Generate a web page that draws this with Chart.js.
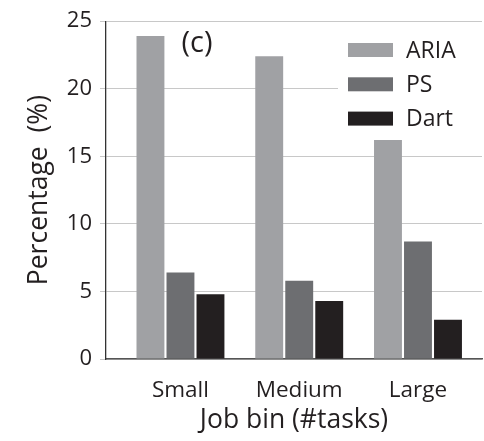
<!DOCTYPE html>
<html>
<head>
<meta charset="utf-8">
<script src="https://cdn.jsdelivr.net/npm/chart.js@4/dist/chart.umd.min.js"></script>
<style>
  body { margin: 0; background: #fff; }
  canvas { display: block; }
</style>
</head>
<body>
<canvas id="myChart" width="484" height="441"></canvas>
<script>
var categories = ["Small", "Medium", "Large"];
var aria_values = [23.9, 22.4, 16.2];
var ps_values = [6.4, 5.8, 8.7];
var dart_values = [4.8, 4.3, 2.9];
var y_ticks = [0, 5, 10, 15, 20, 25];

var FONT = "'Open Sans', 'DejaVu Sans', sans-serif";
var TEXT = '#231f20';

function to_points(values) {
    return values.map(function (v, i) { return { x: i, y: v }; });
}

// legend box in the top right corner, and the panel tag
var panelPlugin = {
    id: 'panel',
    afterDatasetsDraw: function (chart) {
        var ctx = chart.ctx;
        var area = chart.chartArea;
        ctx.save();
        ctx.fillStyle = '#fff';
        ctx.fillRect(338, 29, area.right - 338 + 2, 106);

        var sets = chart.data.datasets;
        ctx.font = '23px ' + FONT;
        ctx.textBaseline = 'middle';
        ctx.textAlign = 'left';
        for (var i = 0; i < sets.length; i++) {
            var cy = 50 + i * 34.3;
            ctx.fillStyle = sets[i].backgroundColor;
            ctx.fillRect(348, cy - 7, 45, 14);
            ctx.fillStyle = TEXT;
            ctx.fillText(sets[i].label, 406, cy + 1);
        }

        ctx.font = '29px ' + FONT;
        ctx.textAlign = 'center';
        ctx.fillText('(c)', 197, 44);
        ctx.restore();
    }
};

var ctx = document.getElementById('myChart').getContext('2d');

var myChart = new Chart(ctx, {
    type: 'bar',
    data: {
        datasets: [
        {
            label: "ARIA",
            data: to_points(aria_values),
            backgroundColor: '#a0a1a4'
        },
        {
            label: "PS",
            data: to_points(ps_values),
            backgroundColor: '#6d6e71'
        },
        {
            label: "Dart",
            data: to_points(dart_values),
            backgroundColor: '#231f20'
        }]
    },
    options: {
        responsive: false,
        animation: false,
        layout: { padding: { top: 19, right: 2, left: 0, bottom: 0 } },
        datasets: {
            bar: { categoryPercentage: 0.758, barPercentage: 0.93 }
        },
        plugins: {
            legend: { display: false },
            tooltip: { enabled: false }
        },
        scales: {
            x: {
                type: 'linear',
                offset: false,
                min: -0.627,
                max: 2.539,
                afterBuildTicks: function (scale) {
                    scale.ticks = categories.map(function (c, i) { return { value: i }; });
                },
                afterFit: function (scale) { scale.height = 82; },
                grid: { display: false, offset: false },
                border: { display: true, color: '#555', width: 1.5, dash: [5, 2] },
                ticks: {
                    padding: 10,
                    color: TEXT,
                    font: { family: FONT, size: 22.5 },
                    callback: function (value) { return categories[value]; }
                },
                title: {
                    display: true,
                    text: 'Job bin (#tasks)',
                    color: TEXT,
                    font: { family: FONT, size: 26.5 },
                    padding: { top: 0, bottom: 5 }
                }
            },
            y: {
                min: 0,
                max: 25,
                afterBuildTicks: function (scale) {
                    scale.ticks = y_ticks.map(function (v) { return { value: v }; });
                },
                afterFit: function (scale) { scale.width = 106; },
                grid: { color: '#c8c8c8', lineWidth: 1, tickLength: 6, tickColor: '#c8c8c8' },
                border: { display: true, color: '#333', width: 1.3 },
                ticks: {
                    padding: 8,
                    color: TEXT,
                    font: { family: FONT, size: 22 }
                },
                title: {
                    display: true,
                    text: 'Percentage  (%)',
                    color: TEXT,
                    font: { family: FONT, size: 26.5 },
                    padding: { top: 24, bottom: 0 }
                }
            }
        }
    },
    plugins: [panelPlugin]
});
</script>
</body>
</html>
